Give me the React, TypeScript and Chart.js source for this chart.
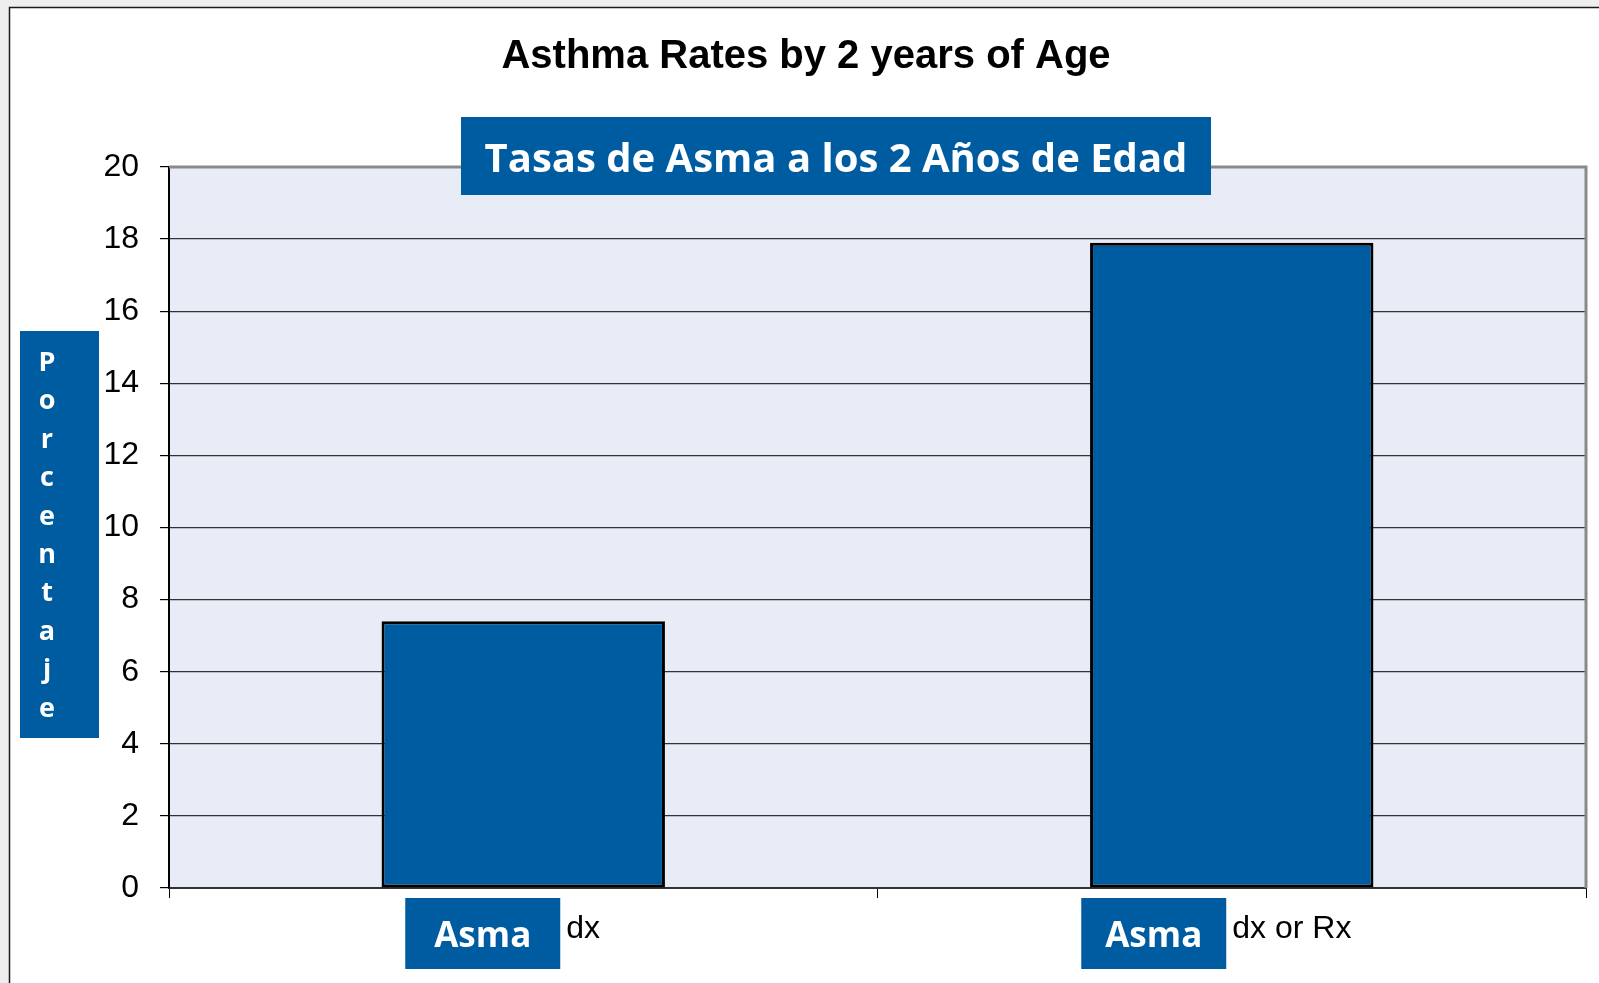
import React, { useEffect, useRef } from "react";
import { Chart, registerables } from "chart.js";

Chart.register(...registerables);

// ---- data ----
const categories: string[] = ["Asma dx", "Asma dx or Rx"];
const boxLabels: string[] = ["Asma", "Asma"];
const suffixLabels: string[] = ["dx", "dx or Rx"];
const values: number[] = [7.4, 17.9];
const yMin = 0;
const yMax = 20;
const yStep = 2;
const chartTitle = "Asthma Rates by 2 years of Age";
const subtitle = "Tasas de Asma a los 2 Años de Edad";
const yAxisTitle = "Porcentaje";

// ---- styles ----
const BLUE = "#005CA1";
const PLOT_BG = "#E8ECF7";

const decorPlugin = {
  id: "decor",
  beforeDraw(chart: any) {
    const { ctx, width, height, chartArea } = chart;
    ctx.save();
    // outer grey, white frame
    ctx.fillStyle = "#EEEEEE";
    ctx.fillRect(0, 0, width, height);
    ctx.fillStyle = "#FFFFFF";
    ctx.fillRect(9, 7, width - 9, height - 7);
    ctx.strokeStyle = "#1a1a1a";
    ctx.lineWidth = 1.5;
    ctx.beginPath();
    ctx.moveTo(9.5, height);
    ctx.lineTo(9.5, 7.5);
    ctx.lineTo(width, 7.5);
    ctx.stroke();
    // plot background
    ctx.fillStyle = PLOT_BG;
    ctx.fillRect(chartArea.left, chartArea.top, chartArea.right - chartArea.left, chartArea.bottom - chartArea.top);
    // main title
    ctx.fillStyle = "#000";
    ctx.font = "bold 40px 'Liberation Sans', Arial, sans-serif";
    ctx.textAlign = "center";
    ctx.textBaseline = "alphabetic";
    ctx.fillText(chartTitle, 806, 68);
    ctx.restore();
  },
  beforeDatasetsDraw(chart: any) {
    const { ctx, chartArea } = chart;
    ctx.save();
    ctx.strokeStyle = "#8A8A8A";
    ctx.lineWidth = 3;
    ctx.beginPath();
    ctx.moveTo(chartArea.left, chartArea.top);
    ctx.lineTo(chartArea.right, chartArea.top);
    ctx.lineTo(chartArea.right, chartArea.bottom);
    ctx.stroke();
    ctx.restore();
  },
  afterDraw(chart: any) {
    const { ctx } = chart;
    const xScale = chart.scales.x;
    ctx.save();
    // subtitle box
    ctx.fillStyle = BLUE;
    ctx.fillRect(461, 117, 750, 78);
    ctx.fillStyle = "#FFFFFF";
    ctx.font = "bold 40px 'Open Sans', sans-serif";
    ctx.textAlign = "center";
    ctx.textBaseline = "alphabetic";
    ctx.fillText(subtitle, 836, 172);

    // y-axis title box with stacked letters
    ctx.fillStyle = BLUE;
    ctx.fillRect(20, 331, 79, 407);
    ctx.fillStyle = "#FFFFFF";
    ctx.font = "bold 27px 'Open Sans', sans-serif";
    const letters = Array.from(yAxisTitle);
    letters.forEach((ch, i) => {
      ctx.fillText(ch, 47, 371 + i * 38.4);
    });

    // category label boxes
    const boxOffsets = [-118, -150.5];
    const boxWidths = [155, 145];
    categories.forEach((_, i) => {
      const cx = xScale.getPixelForValue(i);
      const bx = cx + boxOffsets[i];
      const bw = boxWidths[i];
      ctx.fillStyle = BLUE;
      ctx.fillRect(bx, 898, bw, 71);
      ctx.fillStyle = "#FFFFFF";
      ctx.font = "bold 35px 'Open Sans', sans-serif";
      ctx.textAlign = "center";
      ctx.fillText(boxLabels[i], bx + bw / 2, 947);
      ctx.fillStyle = "#000";
      ctx.font = "32px 'Liberation Sans', Arial, sans-serif";
      ctx.textAlign = "left";
      ctx.fillText(suffixLabels[i], bx + bw + 6, 938);
    });
    ctx.restore();
  },
};

export default function App() {
  const ref = useRef<HTMLCanvasElement | null>(null);

  useEffect(() => {
    document.body.style.margin = "0";
    document.body.style.overflow = "hidden";
    const canvas = ref.current;
    if (!canvas) return;
    const chart = new Chart(canvas, {
      type: "bar",
      data: {
        labels: categories,
        datasets: [
          {
            data: values,
            backgroundColor: BLUE,
            borderColor: "#000000",
            borderWidth: 3,
            borderSkipped: false,
            categoryPercentage: 0.5,
            barPercentage: 0.8,
          },
        ],
      },
      options: {
        animation: false,
        responsive: false,
        devicePixelRatio: 1,
        layout: { padding: { top: 167, right: 13, bottom: 0, left: 0 } },
        plugins: {
          legend: { display: false },
          tooltip: { enabled: false },
          title: { display: false },
        },
        scales: {
          x: {
            type: "category",
            offset: true,
            grid: {
              offset: true,
              drawOnChartArea: false,
              drawTicks: true,
              tickLength: 10,
              color: "#000",
              tickColor: "#000",
              lineWidth: 1,
            },
            border: { color: "#333", width: 2 },
            ticks: { display: false },
            afterFit: (s: any) => {
              s.height = 95;
            },
          },
          y: {
            min: yMin,
            max: yMax,
            ticks: {
              stepSize: yStep,
              color: "#000",
              padding: 21,
              font: { family: "'Liberation Sans', Arial, sans-serif", size: 32 },
            },
            grid: {
              color: "#333333",
              tickColor: "#000",
              lineWidth: 1.2,
              tickLength: 9,
              drawTicks: true,
            },
            border: { color: "#000", width: 2 },
            afterFit: (s: any) => {
              s.width = 169;
            },
          },
        },
      },
      plugins: [decorPlugin],
    });
    return () => chart.destroy();
  }, []);

  return (
    <div style={{ position: "absolute", left: 0, top: 0, width: 1599, height: 983 }}>
      <canvas ref={ref} width={1599} height={983} style={{ width: 1599, height: 983, display: "block" }} />
    </div>
  );
}
